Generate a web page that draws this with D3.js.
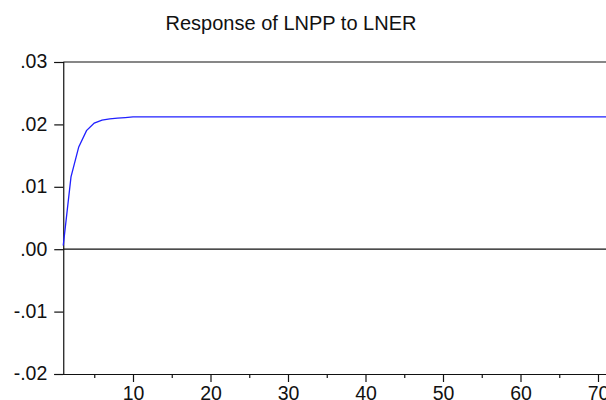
<!DOCTYPE html>
<html>
<head>
<meta charset="utf-8">
<script src="https://cdn.jsdelivr.net/npm/d3@7"></script>
<style>
  html, body { margin: 0; padding: 0; background: #fff; }
  svg { display: block; }
  text { font-family: "Liberation Sans", Arial, sans-serif; fill: #111; }
</style>
</head>
<body>
<svg id="chart" width="606" height="400"></svg>
<script>
const title = "Response of LNPP to LNER";
// Impulse response of LNPP to a shock in LNER, periods 1..72
const response = [
  0.0006, 0.0116, 0.0164, 0.0190, 0.0202, 0.0207, 0.0209, 0.0210, 0.0211, 0.0212,
  0.0212, 0.0212, 0.0212, 0.0212, 0.0212, 0.0212, 0.0212, 0.0212, 0.0212, 0.0212,
  0.0212, 0.0212, 0.0212, 0.0212, 0.0212, 0.0212, 0.0212, 0.0212, 0.0212, 0.0212,
  0.0212, 0.0212, 0.0212, 0.0212, 0.0212, 0.0212, 0.0212, 0.0212, 0.0212, 0.0212,
  0.0212, 0.0212, 0.0212, 0.0212, 0.0212, 0.0212, 0.0212, 0.0212, 0.0212, 0.0212,
  0.0212, 0.0212, 0.0212, 0.0212, 0.0212, 0.0212, 0.0212, 0.0212, 0.0212, 0.0212,
  0.0212, 0.0212, 0.0212, 0.0212, 0.0212, 0.0212, 0.0212, 0.0212, 0.0212, 0.0212,
  0.0212, 0.0212
];
const yTicks = [-0.02, -0.01, 0.00, 0.01, 0.02, 0.03];
const xMajorTicks = [10, 20, 30, 40, 50, 60, 70];
const xMinorTicks = [5, 15, 25, 35, 45, 55, 65];

const svg = d3.select("#chart");
const x = d3.scaleLinear().domain([1, 72]).range([63.25, 613.5]);
const y = d3.scaleLinear().domain([-0.02, 0.03]).range([374, 62]);

const fmtY = v => {
  let s = Math.abs(v).toFixed(2).replace(/^0/, "");
  return (v < -1e-9 ? "-" : "") + s;
};

// title
svg.append("text")
  .attr("x", 291).attr("y", 29.5)
  .attr("text-anchor", "middle")
  .style("font-size", "20px")
  .text(title);

// top border
svg.append("line")
  .attr("x1", x.range()[0]).attr("x2", x.range()[1])
  .attr("y1", y(0.03)).attr("y2", y(0.03))
  .attr("stroke", "#111").attr("stroke-width", 1.2);

// zero line
svg.append("line")
  .attr("x1", x.range()[0]).attr("x2", x.range()[1])
  .attr("y1", y(0)).attr("y2", y(0))
  .attr("stroke", "#111").attr("stroke-width", 1.2);

// y axis
const yAxis = svg.append("g")
  .attr("transform", `translate(${x.range()[0]},0)`)
  .call(d3.axisLeft(y).tickValues(yTicks).tickFormat(fmtY).tickSize(9).tickPadding(7));
yAxis.select(".domain").attr("stroke", "#111").attr("stroke-width", 1.2);
yAxis.selectAll(".tick line").attr("stroke", "#111").attr("stroke-width", 1.2);
yAxis.selectAll(".tick text")
  .style("font-size", "19.5px")
  .attr("fill", "#111")
  .attr("dy", "0.3em");

// x axis major
const xAxis = svg.append("g")
  .attr("transform", `translate(0,${y(-0.02)})`)
  .call(d3.axisBottom(x).tickValues(xMajorTicks).tickFormat(d3.format("d")).tickSize(8).tickPadding(4).tickSizeOuter(0));
xAxis.select(".domain").attr("stroke", "#111").attr("stroke-width", 1.2);
xAxis.selectAll(".tick line").attr("stroke", "#111").attr("stroke-width", 1.2);
xAxis.selectAll(".tick text")
  .style("font-size", "19.5px")
  .attr("fill", "#111")
  .attr("dy", "0.71em");

// x axis minor
const xMinor = svg.append("g")
  .attr("transform", `translate(0,${y(-0.02)})`)
  .call(d3.axisBottom(x).tickValues(xMinorTicks).tickFormat("").tickSize(4).tickSizeOuter(0));
xMinor.select(".domain").remove();
xMinor.selectAll(".tick line").attr("stroke", "#111").attr("stroke-width", 1.2);

// response line
const line = d3.line()
  .x((d, i) => x(i + 1))
  .y(d => y(d));
svg.append("path")
  .datum(response)
  .attr("d", line)
  .attr("fill", "none")
  .attr("stroke", "#2020ff")
  .attr("stroke-width", 1.3);
</script>
</body>
</html>
